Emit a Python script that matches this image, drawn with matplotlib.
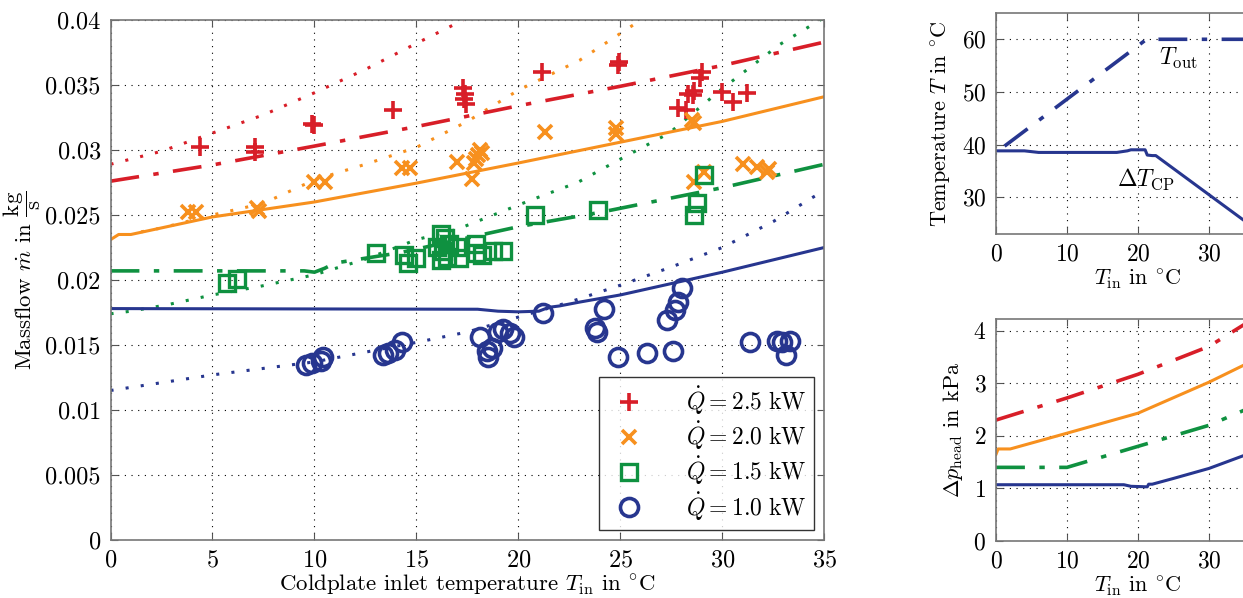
import numpy as np
import matplotlib.pyplot as plt
from matplotlib.ticker import FuncFormatter
from matplotlib.lines import Line2D

plt.rcParams["font.family"] = "serif"
plt.rcParams["font.serif"] = ["cmr10", "DejaVu Serif"]
plt.rcParams["mathtext.fontset"] = "cm"
plt.rcParams["axes.formatter.use_mathtext"] = True

RED = "#d81e28"
ORANGE = "#f7901e"
GREEN = "#0f9140"
BLUE = "#27368f"

# measurements (massflow over inlet temperature)
red_x = [4.4, 7.1, 7.1, 9.9, 10.0, 13.85, 17.3, 17.4, 17.35, 17.45, 21.15, 24.9, 24.95,
         27.8, 28.2, 28.3, 28.55, 28.6, 28.9, 29.0, 30.0, 30.5, 31.2]
red_y = [0.0302, 0.02985, 0.0302, 0.0320, 0.0319, 0.0331, 0.0348, 0.0343, 0.0339, 0.0335,
         0.0360, 0.03654, 0.0368, 0.0332, 0.0331, 0.0343, 0.03423, 0.0345, 0.0355, 0.0360,
         0.03446, 0.0337, 0.0344]
orange_x = [3.8, 4.2, 7.2, 7.3, 10.0, 10.5, 14.3, 14.7, 17.0, 17.7, 17.8, 17.9, 18.0, 18.1,
            18.2, 21.3, 24.8, 24.8, 28.5, 28.6, 28.6, 29.1, 31.0, 31.7, 32.2, 32.3]
orange_y = [0.0252, 0.0252, 0.02554, 0.0253, 0.0275, 0.0275, 0.0286, 0.0286, 0.0291, 0.0278,
            0.0290, 0.0293, 0.0296, 0.0300, 0.0298, 0.0314, 0.0317, 0.0312, 0.0323, 0.0321,
            0.0275, 0.0283, 0.0289, 0.0287, 0.0283, 0.0285]
green_x = [5.7, 6.2, 13.0, 14.4, 14.6, 15.0, 16.0, 16.2, 16.2, 16.3, 16.4, 16.5, 16.6, 17.0,
           17.1, 17.9, 17.9, 18.2, 18.75, 19.25, 20.8, 23.9, 28.6, 28.75, 29.1]
green_y = [0.0198, 0.0201, 0.0221, 0.0219, 0.0213, 0.0217, 0.0225, 0.0235, 0.0215, 0.0222,
           0.0232, 0.0218, 0.0228, 0.0225, 0.0217, 0.0228, 0.0221, 0.0219, 0.0222, 0.0222,
           0.0250, 0.0254, 0.0250, 0.0259, 0.0281]
blue_x = [9.6, 9.9, 10.3, 10.4, 13.35, 13.6, 13.95, 14.3, 18.1, 18.45, 18.5, 18.7, 19.0,
          19.25, 19.6, 19.8, 21.2, 23.75, 23.85, 24.2, 24.9, 26.3, 27.3, 27.6, 27.7, 27.8,
          28.0, 31.35, 32.7, 32.9, 33.1, 33.3]
blue_y = [0.01346, 0.0136, 0.0138, 0.0141, 0.0142, 0.0144, 0.0146, 0.0152, 0.0156, 0.0145,
          0.0141, 0.0148, 0.0160, 0.0162, 0.0159, 0.0156, 0.01746, 0.0163, 0.0160, 0.0178,
          0.0141, 0.0144, 0.0169, 0.0145, 0.0177, 0.0183, 0.0194, 0.0152, 0.0153, 0.0152,
          0.0142, 0.0153]

# simulation curves
red_sim_x = [0, 5, 10, 15, 20, 25, 30, 35]
red_sim_y = [0.0276, 0.02885, 0.0303, 0.0318, 0.0334, 0.0349, 0.0365, 0.0383]
red_dot_x = [0, 2.5, 5, 7.5, 10, 12.5, 15, 17.3]
red_dot_y = [0.0289, 0.0299, 0.0313, 0.0327, 0.0344, 0.0362, 0.0382, 0.0400]
orange_sim_x = [0, 0.4, 1, 5, 10, 15, 20, 25, 30, 35]
orange_sim_y = [0.0231, 0.0235, 0.0235, 0.02485, 0.0260, 0.02745, 0.0290, 0.0306, 0.0322, 0.0341]
orange_dot_x = [1.5, 2.5, 5, 7.5, 10, 12.5, 15, 17.5, 20, 23, 26]
orange_dot_y = [0.0237, 0.0240, 0.0250, 0.0259, 0.0277, 0.0289, 0.0302, 0.0322, 0.0346, 0.0369, 0.0400]
green_sim_x = [0, 9.5, 10, 10.5, 11, 14.2, 20, 24, 30, 35]
green_sim_y = [0.0207, 0.0207, 0.0206, 0.0209, 0.0213, 0.0221, 0.0241, 0.0252, 0.0271, 0.0289]
green_dot_x = [0, 1, 2.8, 5, 7.3, 10, 12.5, 15, 17, 20.7, 22.9, 25, 27.4, 29.9, 32.8, 35]
green_dot_y = [0.0174, 0.0176, 0.0181, 0.01885, 0.0195, 0.0204, 0.0216, 0.0231, 0.0239,
               0.0262, 0.0275, 0.0293, 0.0313, 0.0346, 0.0381, 0.0402]
blue_sim_x = [0, 18, 19, 20, 21, 21.5, 22, 23, 25, 30, 35]
blue_sim_y = [0.0178, 0.01775, 0.0176, 0.01755, 0.0176, 0.0179, 0.0180, 0.0183, 0.01885, 0.0206, 0.0225]
blue_dot_x = [0, 5, 10, 15, 17.5, 20, 22.5, 25, 27.5, 30, 32.5, 35]
blue_dot_y = [0.0115, 0.0127, 0.0137, 0.0152, 0.0160, 0.01715, 0.0183, 0.0196, 0.0210, 0.0225, 0.0245, 0.0269]

legend_labels = [r"$\dot{Q} = 2.5\ \mathrm{kW}$", r"$\dot{Q} = 2.0\ \mathrm{kW}$",
                 r"$\dot{Q} = 1.5\ \mathrm{kW}$", r"$\dot{Q} = 1.0\ \mathrm{kW}$"]

# right panels
tout_x = [1.2, 21.2, 40]
tout_y = [39.7, 60, 60]
dtcp_x = [0, 4, 6, 17, 18.5, 19, 21, 21.3, 22, 22.5, 35, 36]
dtcp_y = [38.8, 38.8, 38.5, 38.5, 38.8, 39.0, 39.0, 38.0, 37.9, 37.9, 25.5, 24.5]
dp_red_x = [0, 10, 20, 30, 35, 36]
dp_red_y = [2.3, 2.72, 3.17, 3.70, 4.12, 4.2]
dp_orange_x = [0, 0.3, 2, 10, 20, 30, 35, 36]
dp_orange_y = [1.65, 1.75, 1.75, 2.05, 2.43, 3.02, 3.35, 3.42]
dp_green_x = [0, 10, 12, 20, 30, 35, 36]
dp_green_y = [1.4, 1.4, 1.48, 1.8, 2.2, 2.49, 2.55]
dp_blue_x = [0, 18, 19, 21.3, 21.5, 22, 25, 30, 35, 36]
dp_blue_y = [1.07, 1.07, 1.04, 1.03, 1.08, 1.08, 1.19, 1.38, 1.63, 1.68]

DASHDOT = (0, (8, 4, 1.5, 4))
DOTTED = (0, (1, 4))
LW = 2.2


def style_axes(ax, tick_fs):
    ax.grid(True, color="black", linestyle=(0, (1, 5)), linewidth=0.8)
    ax.tick_params(direction="in", top=True, right=True, labelsize=tick_fs, length=5,
                   color="#555555", pad=7)
    for s in ax.spines.values():
        s.set_color("#777777")
        s.set_linewidth(1.2)


fig = plt.figure(figsize=(12.43, 5.98), dpi=100)

ax = fig.add_axes([0.0889, 0.0970, 0.5743, 0.8696])
ax.plot(red_dot_x, red_dot_y, color=RED, ls=DOTTED, lw=LW)
ax.plot(orange_dot_x, orange_dot_y, color=ORANGE, ls=DOTTED, lw=LW)
ax.plot(green_dot_x, green_dot_y, color=GREEN, ls=DOTTED, lw=LW)
ax.plot(blue_dot_x, blue_dot_y, color=BLUE, ls=DOTTED, lw=LW)
ax.plot(red_sim_x, red_sim_y, color=RED, ls=DASHDOT, lw=LW + 0.4)
ax.plot(orange_sim_x, orange_sim_y, color=ORANGE, ls="-", lw=LW)
ax.plot(green_sim_x, green_sim_y, color=GREEN, ls=DASHDOT, lw=LW + 0.4)
ax.plot(blue_sim_x, blue_sim_y, color=BLUE, ls="-", lw=LW)

ax.plot(red_x, red_y, ls="none", marker="+", ms=13, mew=2.6, color=RED)
ax.plot(orange_x, orange_y, ls="none", marker="x", ms=10, mew=2.6, color=ORANGE)
ax.plot(green_x, green_y, ls="none", marker="s", ms=11, mew=2.4, mfc="none", color=GREEN)
ax.plot(blue_x, blue_y, ls="none", marker="o", ms=13, mew=2.6, mfc="none", color=BLUE)

ax.set_xlim(0, 35)
ax.set_ylim(0, 0.04)
ax.set_xticks(np.arange(0, 36, 5))
ax.set_yticks(np.arange(0, 0.0401, 0.005))
ax.yaxis.set_major_formatter(FuncFormatter(lambda v, _: f"{round(v, 4):g}"))
style_axes(ax, 17.5)
ax.set_xlabel(r"Coldplate inlet temperature $T_\mathrm{in}$ in $^{\circ}$C", fontsize=16.5, labelpad=1)
ax.set_ylabel(r"Massflow $\dot{m}$ in $\dfrac{\mathrm{kg}}{\mathrm{s}}$", fontsize=16.5, labelpad=2)

handles = [
    Line2D([], [], ls="none", marker="+", ms=13, mew=2.6, color=RED),
    Line2D([], [], ls="none", marker="x", ms=10, mew=2.6, color=ORANGE),
    Line2D([], [], ls="none", marker="s", ms=11, mew=2.4, mfc="none", color=GREEN),
    Line2D([], [], ls="none", marker="o", ms=13, mew=2.6, mfc="none", color=BLUE),
]
leg = ax.legend(handles, legend_labels, loc="lower right", bbox_to_anchor=(0.985, 0.02),
                fontsize=17, frameon=True, fancybox=False, edgecolor="black",
                handletextpad=1.4, borderpad=0.3, labelspacing=0.1, borderaxespad=0.0)
leg.get_frame().set_linewidth(1.0)

# top right: temperatures
ax2 = fig.add_axes([0.8013, 0.6087, 0.2285, 0.3696])
ax2.plot(tout_x, tout_y, color=BLUE, ls=DASHDOT, lw=LW + 0.4)
ax2.plot(dtcp_x, dtcp_y, color=BLUE, ls="-", lw=LW)
ax2.set_xlim(0, 40)
ax2.set_ylim(23, 65)
ax2.set_xticks([0, 10, 20, 30])
ax2.set_yticks([30, 40, 50, 60])
style_axes(ax2, 17)
ax2.set_xlabel(r"$T_\mathrm{in}$ in $^{\circ}$C", fontsize=16, labelpad=1)
ax2.set_ylabel(r"Temperature $T$ in $^{\circ}$C", fontsize=16, labelpad=6)
ax2.text(23.0, 56.3, r"$T_\mathrm{out}$", fontsize=17, va="center", ha="left")
ax2.text(17.0, 33.4, r"$\Delta T_\mathrm{CP}$", fontsize=17, va="center", ha="left")

# bottom right: pump head
ax3 = fig.add_axes([0.8013, 0.0953, 0.2285, 0.3712])
ax3.plot(dp_red_x, dp_red_y, color=RED, ls=DASHDOT, lw=LW + 0.4)
ax3.plot(dp_orange_x, dp_orange_y, color=ORANGE, ls="-", lw=LW)
ax3.plot(dp_green_x, dp_green_y, color=GREEN, ls=DASHDOT, lw=LW + 0.4)
ax3.plot(dp_blue_x, dp_blue_y, color=BLUE, ls="-", lw=LW)
ax3.set_xlim(0, 40)
ax3.set_ylim(0, 4.22)
ax3.set_xticks([0, 10, 20, 30])
ax3.set_yticks([0, 1, 2, 3, 4])
style_axes(ax3, 17)
ax3.set_xlabel(r"$T_\mathrm{in}$ in $^{\circ}$C", fontsize=16, labelpad=1)
ax3.set_ylabel(r"$\Delta p_\mathrm{head}$ in kPa", fontsize=16, labelpad=6)

fig.savefig("out.png", dpi=100)
